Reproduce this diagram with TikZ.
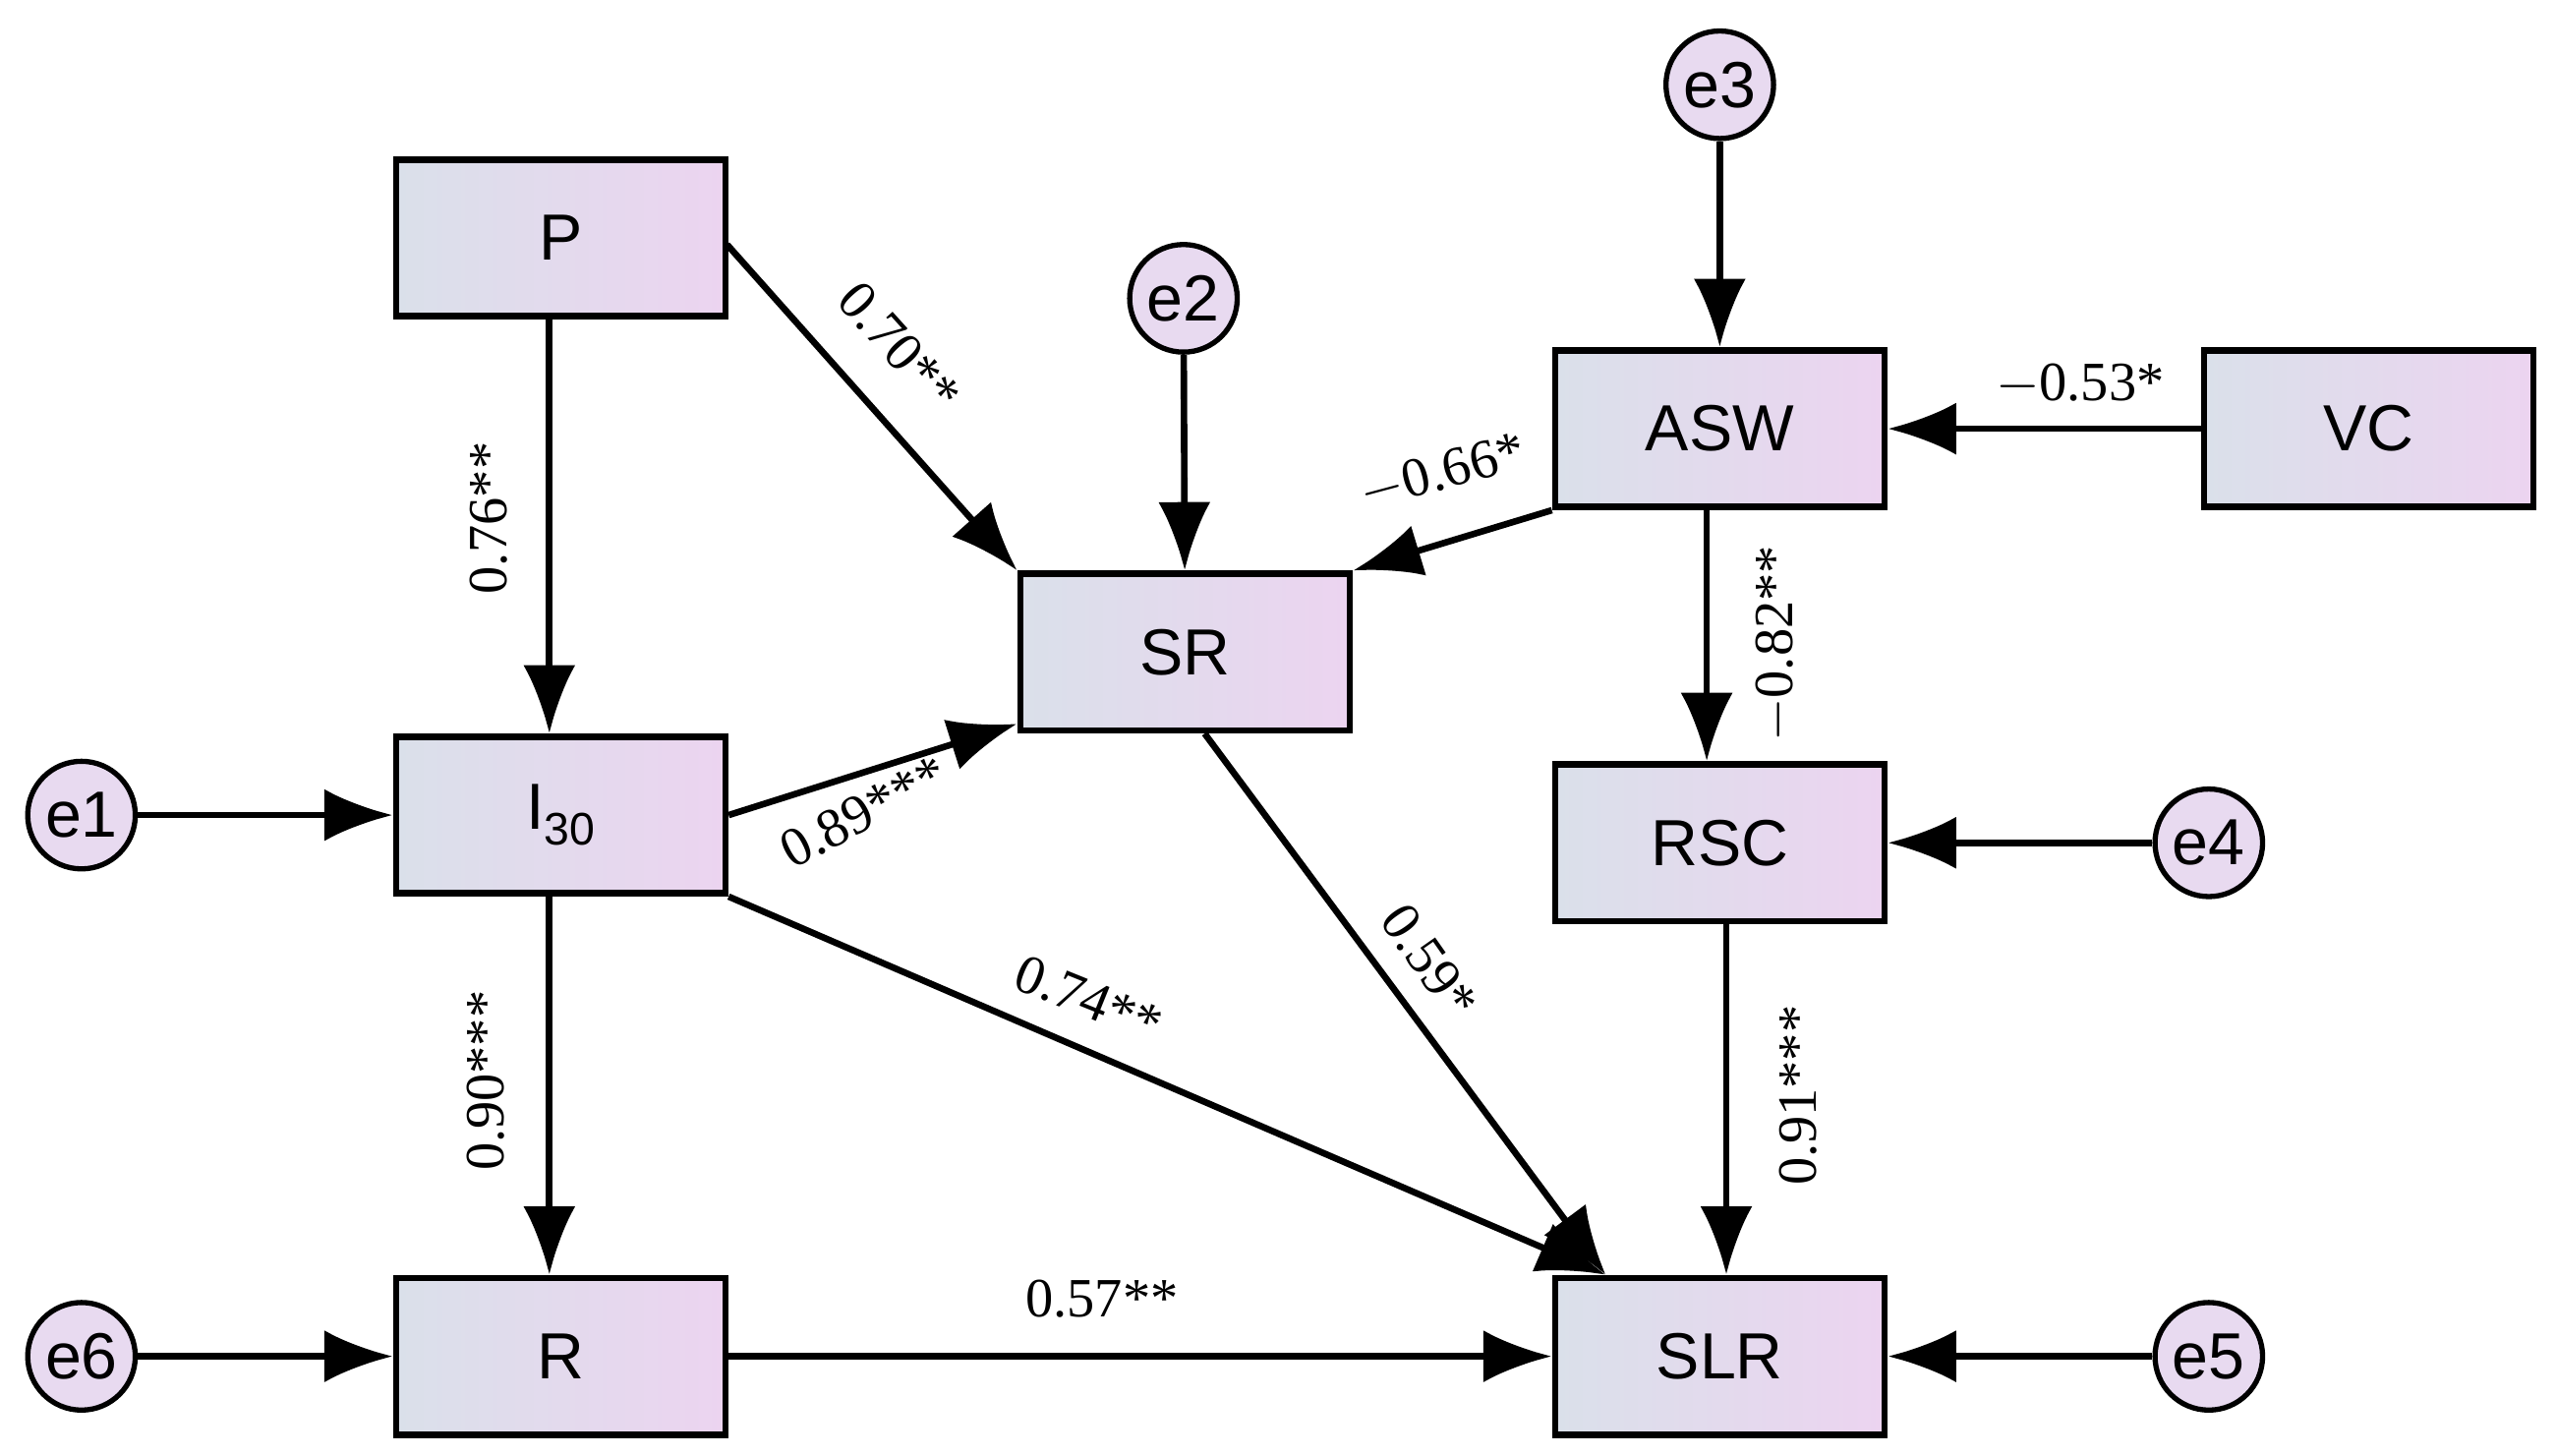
\documentclass[tikz,border=0pt]{standalone}
\usepackage{fontspec}
\setmainfont{Liberation Serif}
\newfontfamily\nodefont{Liberation Sans}
\usetikzlibrary{arrows.meta}
\definecolor{bl}{RGB}{218,224,234}
\definecolor{pk}{RGB}{236,212,240}
\definecolor{cf}{RGB}{232,218,240}
\begin{document}
\begin{tikzpicture}[x=0.5pt,y=-0.5pt,
 box/.style={draw=black,line width=2pt,minimum width=101pt,minimum height=48pt,inner sep=0pt,left color=bl,right color=pk,font=\nodefont\fontsize{20}{24}\selectfont},
 err/.style={draw=black,circle,line width=1.6pt,minimum size=33pt,inner sep=0pt,fill=cf,font=\nodefont\fontsize{20}{24}\selectfont},
 arr/.style={line width=2pt,-{Latex[length=21pt,width=16pt]}},
 lab/.style={font=\fontsize{17}{20}\selectfont}]
\useasboundingbox (0,0) rectangle (1568,893);
\node[box] (P) at (344,146) {P};
\node[box] (SR) at (727,400) {SR};
\node[box] (ASW) at (1055,263) {ASW};
\node[box] (VC) at (1453,263) {VC};
\node[box] (I) at (344,500) {I\raisebox{-5pt}{\fontsize{14}{16}\selectfont 30}};
\node[box] (RSC) at (1055,517) {RSC};
\node[box] (R) at (344,832) {R};
\node[box] (SLR) at (1055,832) {SLR};
\node[err] (e3) at (1055,52) {e3};
\node[err] (e2) at (726,183) {e2};
\node[err] (e1) at (50,500) {e1};
\node[err] (e4) at (1355,517) {e4};
\node[err] (e6) at (50,832) {e6};
\node[err] (e5) at (1355,832) {e5};
\coordinate (Pr) at (446,150);
\draw[arr] (Pr) -- (SR.north west);
\draw[arr] ([xshift=-3.5pt]P.south) -- ([xshift=-3.5pt]I.north);
\draw[arr] ([xshift=-3.5pt]I.south) -- ([xshift=-3.5pt]R.north);
\draw[arr] (e1) -- (I);
\draw[arr] (e6) -- (R);
\draw[arr] (e2) -- (SR);
\draw[arr] (e3) -- (ASW);
\draw[arr] (VC) -- (ASW);
\draw[arr] (e4) -- (RSC);
\draw[arr] (e5) -- (SLR);
\draw[arr] (R) -- (SLR);
\draw[arr] ([yshift=0pt]I.east) -- ([yshift=-22pt]SR.west);
\draw[arr] (ASW.south west) -- (SR.north east);
\draw[arr] ([xshift=-4pt]ASW.south) -- ([xshift=-4pt]RSC.north);
\draw[arr] ([xshift=2pt]RSC.south) -- ([xshift=2pt]SLR.north);
\draw[arr] (I.south east) -- ([xshift=-35pt]SLR.north);
\draw[arr] ([xshift=6pt]SR.south) -- ([xshift=-35pt]SLR.north);
\node[lab,rotate=-48] (l1) at (552,213) {0.70**};
\node[lab,rotate=90] (l2) at (300,318) {0.76**};
\node[lab,rotate=28] (l3) at (530,498) {0.89***};
\node[lab,rotate=15] (l4) at (885,290) {$-$0.66*};
\node[lab] (l5) at (1276,236) {$-$0.53*};
\node[lab,rotate=90] (l6) at (1090,395) {$-$0.82**};
\node[lab,rotate=-55] (l7) at (877,590) {0.59*};
\node[lab,rotate=-22] (l8) at (668,613) {0.74**};
\node[lab,rotate=90] (l9) at (298,663) {0.90***};
\node[lab,rotate=90] (l10) at (1103,672) {0.91***};
\node[lab] (l11) at (676,797) {0.57**};
\end{tikzpicture}
\end{document}
